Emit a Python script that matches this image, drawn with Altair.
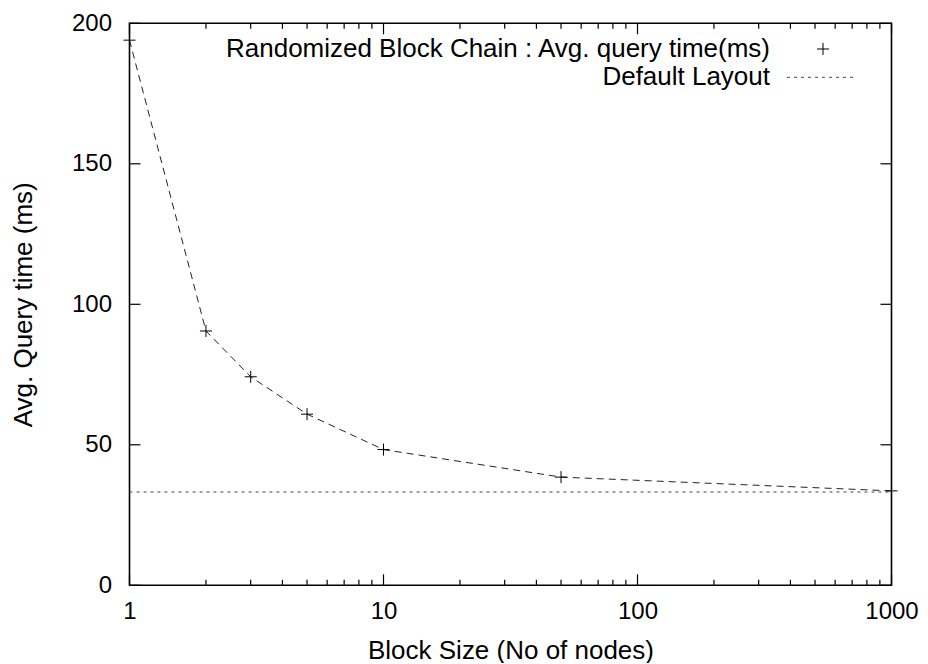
import altair as alt
import pandas as pd

# ---- data ----
block_size = [1, 2, 3, 5, 10, 50, 1000]
query_ms = [194, 90.5, 74.2, 60.9, 48.3, 38.5, 33.6]
default_layout_ms = 33.2
x_domain = [1, 1000]
y_domain = [0, 200]
x_major = [1, 10, 100, 1000]
x_minor = [2, 3, 4, 5, 6, 7, 8, 9, 20, 30, 40, 50, 60, 70, 80, 90,
           200, 300, 400, 500, 600, 700, 800, 900]
y_ticks = [0, 50, 100, 150, 200]
legend_labels = ["Randomized Block Chain : Avg. query time(ms)", "Default Layout"]
x_title = "Block Size (No of nodes)"
y_title = "Avg. Query time (ms)"

W, H = 762, 562
FONT = "Liberation Sans"
PLUS = "M-1,0L1,0M0,-1L0,1"

series = pd.DataFrame({"x": block_size, "y": query_ms})
default_df = pd.DataFrame({"x": [x_domain[0]], "x2": [x_domain[1]], "y": [default_layout_ms]})
xmaj_df = pd.DataFrame({"x": x_major})
xmin_df = pd.DataFrame({"x": x_minor})
yt_df = pd.DataFrame({"y": y_ticks})
one = pd.DataFrame({"k": [0]})

xs = alt.Scale(type="log", domain=x_domain, nice=False)
ys = alt.Scale(domain=y_domain, nice=False)

line = alt.Chart(series).mark_line(
    color="#222", strokeWidth=1, strokeDash=[7, 5]
).encode(
    x=alt.X("x:Q", scale=xs, title=x_title,
            axis=alt.Axis(values=x_major, format="d", labelPadding=14,
                          titlePadding=14, labelFlush=False)),
    y=alt.Y("y:Q", scale=ys, title=y_title,
            axis=alt.Axis(values=y_ticks, labelPadding=18, titlePadding=35,
                          labelFlush=False)),
)

points = alt.Chart(series).mark_point(
    shape=PLUS, size=144, filled=False, color="black", strokeWidth=1, opacity=1
).encode(x=alt.X("x:Q", scale=xs), y=alt.Y("y:Q", scale=ys))

default_line = alt.Chart(default_df).mark_rule(
    color="#444", strokeWidth=1, strokeDash=[3, 4]
).encode(x=alt.X("x:Q", scale=xs), x2="x2:Q", y=alt.Y("y:Q", scale=ys))

TICK = dict(color="black", strokeWidth=1.2)
yl = alt.Chart(yt_df).mark_rule(**TICK).encode(
    y=alt.Y("y:Q", scale=ys), x=alt.value(0), x2=alt.value(11))
yr = alt.Chart(yt_df).mark_rule(**TICK).encode(
    y=alt.Y("y:Q", scale=ys), x=alt.value(W - 11), x2=alt.value(W))
xb = alt.Chart(xmaj_df).mark_rule(**TICK).encode(
    x=alt.X("x:Q", scale=xs), y=alt.value(H - 11), y2=alt.value(H))
xt = alt.Chart(xmaj_df).mark_rule(**TICK).encode(
    x=alt.X("x:Q", scale=xs), y=alt.value(0), y2=alt.value(11))
xbm = alt.Chart(xmin_df).mark_rule(**TICK).encode(
    x=alt.X("x:Q", scale=xs), y=alt.value(H - 5.5), y2=alt.value(H))
xtm = alt.Chart(xmin_df).mark_rule(**TICK).encode(
    x=alt.X("x:Q", scale=xs), y=alt.value(0), y2=alt.value(5.5))

leg1 = alt.Chart(one).mark_text(
    text=legend_labels[0], align="right", baseline="middle",
    font=FONT, fontSize=26, color="black"
).encode(x=alt.value(640.5), y=alt.value(26))
leg2 = alt.Chart(one).mark_text(
    text=legend_labels[1], align="right", baseline="middle",
    font=FONT, fontSize=26, color="black"
).encode(x=alt.value(640.5), y=alt.value(54))
leg_plus = alt.Chart(one).mark_point(
    shape=PLUS, size=144, filled=False, color="black", strokeWidth=1, opacity=1
).encode(x=alt.value(693.5), y=alt.value(25.7))
leg_dot = alt.Chart(one).mark_rule(
    color="#444", strokeWidth=1, strokeDash=[3, 4]
).encode(x=alt.value(657.5), x2=alt.value(727), y=alt.value(54))

chart = alt.layer(
    default_line, line, points, yl, yr, xb, xt, xbm, xtm,
    leg1, leg2, leg_plus, leg_dot
).properties(
    width=W, height=H,
    padding={"left": 121.5, "top": 15.3, "right": 28, "bottom": 78},
    autosize=alt.AutoSizeParams(type="none"),
    background="white",
).configure_view(
    stroke="black", strokeWidth=1.6
).configure_axis(
    grid=False, domain=False, ticks=False, tickSize=0,
    labelFont=FONT, labelFontSize=24, labelColor="black",
    titleFont=FONT, titleFontSize=26, titleFontWeight="normal", titleColor="black",
)

chart.save("out.html", embed_options={"renderer": "svg", "actions": False})
